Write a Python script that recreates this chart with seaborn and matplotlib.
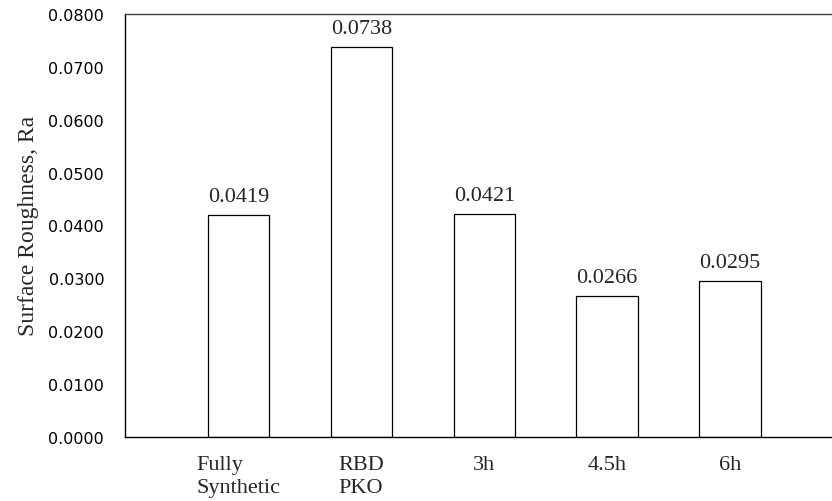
import matplotlib
matplotlib.use("Agg")
import matplotlib.pyplot as plt
import seaborn as sns
import pandas as pd

# Data
categories = ["Fully\nSynthetic", "RBD\nPKO", "3h", "4.5h", "6h"]
roughness = [0.0419, 0.0738, 0.0421, 0.0266, 0.0295]
value_labels = ["0.0419", "0.0738", "0.0421", "0.0266", "0.0295"]
y_ticks = [0.0, 0.01, 0.02, 0.03, 0.04, 0.05, 0.06, 0.07, 0.08]

df = pd.DataFrame({"sample": categories, "Ra": roughness})

sns.set_style("white")
serif = ["Liberation Serif", "DejaVu Serif"]
plt.rcParams["font.family"] = ["DejaVu Sans"]

fig = plt.figure(figsize=(8.32, 5.02), dpi=100)
ax = fig.add_axes([0.1502, 0.128, 0.8498, 0.842])

sns.barplot(data=df, x="sample", y="Ra", order=categories, color="white",
            edgecolor="black", linewidth=0.9, width=0.5, ax=ax)

for p, lab in zip(ax.patches, value_labels):
    ax.annotate(lab, (p.get_x() + p.get_width() / 2, p.get_height()),
                xytext=(0, 10), textcoords="offset points",
                ha="center", va="baseline", fontsize=16, family=serif)

ax.set_xlim(-0.926, 4.831)
ax.set_ylim(0, 0.08)
ax.set_yticks(y_ticks)
ax.set_yticklabels([f"{t:.4f}" for t in y_ticks], fontsize=11.5)
ax.set_xticks(range(len(categories)))
ax.set_xticklabels(categories, fontsize=16, family=serif,
                   multialignment="left", linespacing=1.3)
ax.tick_params(axis="y", direction="in", length=4, width=0.9, pad=15, colors="black")
ax.tick_params(axis="x", length=0, pad=13)
ax.set_xlabel("")
ax.set_ylabel("Surface Roughness, Ra", fontsize=17, family=serif, labelpad=7)

for side in ["left", "bottom"]:
    ax.spines[side].set_color("black")
    ax.spines[side].set_linewidth(1.0)
ax.spines["top"].set_color("#404040")
ax.spines["top"].set_linewidth(1.0)
ax.spines["right"].set_visible(False)

fig.savefig("out.png", dpi=100)
plt.close(fig)
